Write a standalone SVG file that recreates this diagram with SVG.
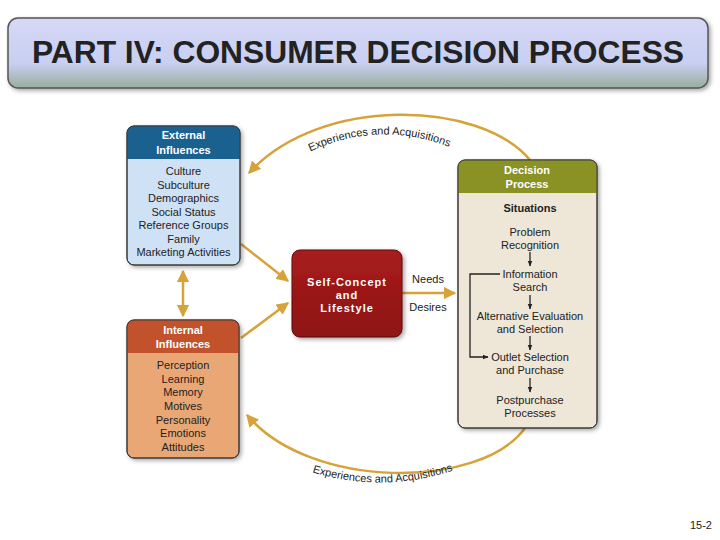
<svg xmlns="http://www.w3.org/2000/svg" width="720" height="540" viewBox="0 0 720 540">
<style>
.t{font-family:"Liberation Sans",Arial,sans-serif;fill:#222;text-anchor:middle}
.it{font-size:11px}
.hd{font-size:11px;font-weight:bold;fill:#fff}
.arc{fill:none;stroke:#d6a23a;stroke-width:2.5}
.gl{fill:none;stroke:#d6a23a;stroke-width:2.5}
.bk{fill:none;stroke:#222;stroke-width:1.3}
.lab{font-family:"Liberation Sans",Arial,sans-serif;font-size:11px;fill:#222}
.box{stroke:#3a3a3a;stroke-width:1}
</style>
<defs>
<linearGradient id="tg" x1="0" y1="0" x2="0" y2="1">
<stop offset="0" stop-color="#d6d8f6"/>
<stop offset="0.65" stop-color="#c8cff0"/>
<stop offset="1" stop-color="#98ad9e"/>
</linearGradient>
<linearGradient id="sg" x1="0" y1="0" x2="0" y2="1">
<stop offset="0" stop-color="#a81c1c"/>
<stop offset="1" stop-color="#8e1414"/>
</linearGradient>
<filter id="sh" x="-20%" y="-20%" width="140%" height="140%">
<feDropShadow dx="2" dy="2" stdDeviation="2" flood-color="#000" flood-opacity="0.35"/>
</filter>
<marker id="ga" viewBox="0 0 10 10" refX="9" refY="5" markerWidth="5" markerHeight="5" orient="auto-start-reverse">
<path d="M0,0 L10,5 L0,10 Z" fill="#d6a23a"/>
</marker>
<marker id="ba" viewBox="0 0 10 10" refX="9" refY="5" markerWidth="6" markerHeight="6" orient="auto" markerUnits="userSpaceOnUse">
<path d="M0,1 L10,5 L0,9 Z" fill="#222"/>
</marker>
<path id="tp" d="M280 168 Q380 104 480 162"/>
<path id="bp" d="M280 460 Q382 506 485 458"/>
</defs>

<g id="title">
<rect x="8" y="18" width="700" height="70" rx="10" fill="url(#tg)" stroke="#555" stroke-width="1.5" filter="url(#sh)"/>
<text x="358" y="63" font-family="'Liberation Sans',Arial,sans-serif" font-size="31" font-weight="bold" fill="#222" text-anchor="middle" textLength="652" lengthAdjust="spacingAndGlyphs">PART IV: CONSUMER DECISION PROCESS</text>
</g>

<g id="connectors">
<path class="arc" d="M530 160 C480 100 320 95 249 173" marker-end="url(#ga)"/>
<path class="arc" d="M525 428 C480 490 310 490 247 415" marker-end="url(#ga)"/>
<line class="gl" x1="183" y1="271" x2="183" y2="316" marker-start="url(#ga)" marker-end="url(#ga)"/>
<line class="gl" x1="241" y1="244" x2="288" y2="281" marker-end="url(#ga)"/>
<line class="gl" x1="241" y1="338" x2="288" y2="303" marker-end="url(#ga)"/>
<line class="gl" x1="402" y1="293" x2="455" y2="293" marker-end="url(#ga)"/>
<text class="lab"><textPath href="#tp" startOffset="50%" text-anchor="middle">Experiences and Acquisitions</textPath></text>
<text class="lab"><textPath href="#bp" startOffset="50%" text-anchor="middle">Experiences and Acquisitions</textPath></text>
<text class="t it" x="428" y="283">Needs</text>
<text class="t it" x="428" y="311">Desires</text>
</g>

<g id="external">
<rect class="box" x="127" y="126" width="113" height="139" rx="7" fill="#cfe1f5" filter="url(#sh)"/>
<path d="M127 159 V133 Q127 126 134 126 H233 Q240 126 240 133 V159 Z" fill="#1b6190"/>
<rect x="127" y="126" width="113" height="139" rx="7" fill="none" stroke="#3a3a3a"/>
<text class="t hd" x="183.5" y="139">External</text>
<text class="t hd" x="183.5" y="154">Influences</text>
<text class="t it" x="183.5" y="175">Culture</text>
<text class="t it" x="183.5" y="188.5">Subculture</text>
<text class="t it" x="183.5" y="202">Demographics</text>
<text class="t it" x="183.5" y="215.5">Social Status</text>
<text class="t it" x="183.5" y="229">Reference Groups</text>
<text class="t it" x="183.5" y="242.5">Family</text>
<text class="t it" x="183.5" y="256">Marketing Activities</text>
</g>

<g id="internal">
<rect class="box" x="127" y="320" width="112" height="138" rx="7" fill="#e9a776" filter="url(#sh)"/>
<path d="M127 353 V327 Q127 320 134 320 H232 Q239 320 239 327 V353 Z" fill="#c2522b"/>
<rect x="127" y="320" width="112" height="138" rx="7" fill="none" stroke="#3a3a3a"/>
<text class="t hd" x="183" y="334">Internal</text>
<text class="t hd" x="183" y="348">Influences</text>
<text class="t it" x="183" y="369">Perception</text>
<text class="t it" x="183" y="382.5">Learning</text>
<text class="t it" x="183" y="396">Memory</text>
<text class="t it" x="183" y="410">Motives</text>
<text class="t it" x="183" y="423.5">Personality</text>
<text class="t it" x="183" y="437">Emotions</text>
<text class="t it" x="183" y="451">Attitudes</text>
</g>

<g id="selfconcept">
<rect x="292" y="250" width="110" height="87" rx="8" fill="url(#sg)" stroke="#5a0d0d" stroke-width="1" filter="url(#sh)"/>
<text class="t hd" x="347" y="286" letter-spacing="1">Self-Concept</text>
<text class="t hd" x="347" y="299" letter-spacing="1">and</text>
<text class="t hd" x="347" y="312" letter-spacing="1">Lifestyle</text>
</g>

<g id="decision">
<rect class="box" x="458" y="160" width="139" height="268" rx="7" fill="#eee7d7" filter="url(#sh)"/>
<path d="M458 193 V167 Q458 160 465 160 H590 Q597 160 597 167 V193 Z" fill="#8a9226"/>
<rect x="458" y="160" width="139" height="268" rx="7" fill="none" stroke="#3a3a3a"/>
<text class="t hd" x="527" y="174">Decision</text>
<text class="t hd" x="527" y="188">Process</text>
<text class="t it" x="530" y="212" font-weight="bold">Situations</text>
<text class="t it" x="530" y="236">Problem</text>
<text class="t it" x="530" y="249">Recognition</text>
<text class="t it" x="530" y="278">Information</text>
<text class="t it" x="530" y="291">Search</text>
<text class="t it" x="530" y="320">Alternative Evaluation</text>
<text class="t it" x="530" y="333">and Selection</text>
<text class="t it" x="530" y="361">Outlet Selection</text>
<text class="t it" x="530" y="374">and Purchase</text>
<text class="t it" x="530" y="404">Postpurchase</text>
<text class="t it" x="530" y="417">Processes</text>
<line class="bk" x1="530" y1="252" x2="530" y2="266" marker-end="url(#ba)"/>
<line class="bk" x1="530" y1="295" x2="530" y2="309" marker-end="url(#ba)"/>
<line class="bk" x1="530" y1="336" x2="530" y2="350" marker-end="url(#ba)"/>
<line class="bk" x1="530" y1="378" x2="530" y2="392" marker-end="url(#ba)"/>
<path class="bk" d="M500 274 H470 V357 H488" marker-end="url(#ba)"/>
</g>

<text x="712" y="529" font-family="'Liberation Sans',Arial,sans-serif" font-size="11" fill="#222" text-anchor="end">15-2</text>
</svg>
